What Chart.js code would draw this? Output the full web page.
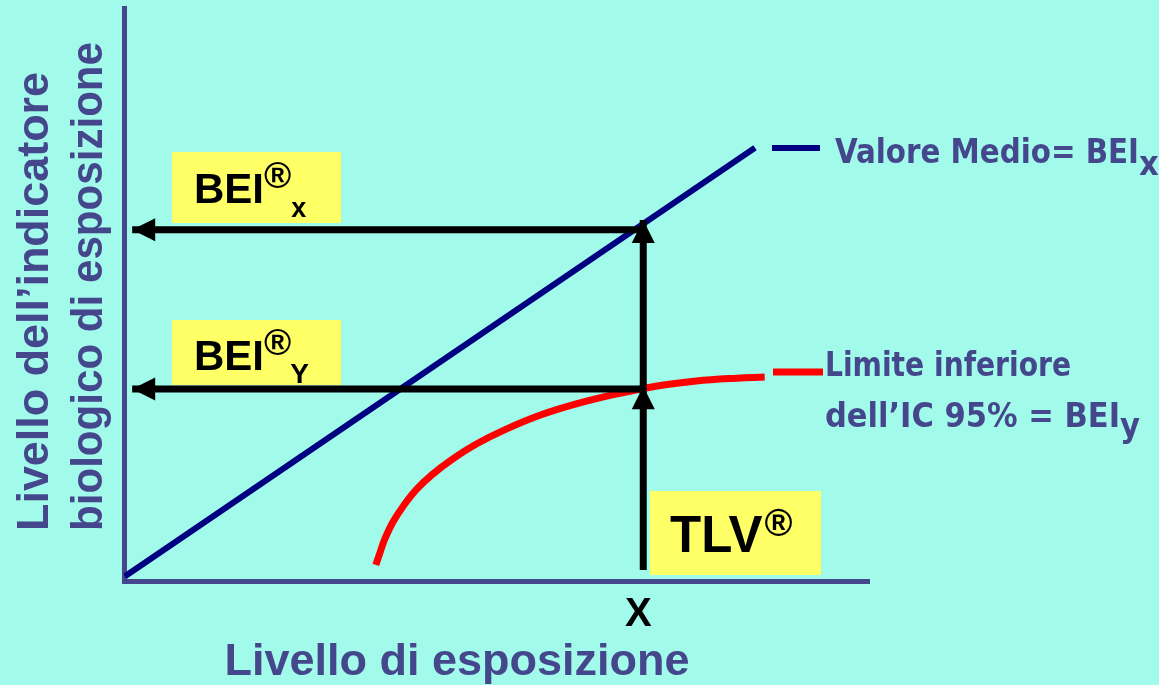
<!DOCTYPE html>
<html>
<head>
<meta charset="utf-8">
<script src="https://cdn.jsdelivr.net/npm/chart.js"></script>
<style>
  html, body { margin: 0; padding: 0; background: #a2faea; }
  #wrap { width: 1159px; height: 685px; }
</style>
</head>
<body>
<div id="wrap"><canvas id="chart" width="1159" height="685"></canvas></div>
<script>
// mean value line (BEI x)
const meanX = [0.01, 8.47];
const meanY = [0.08, 7.56];

// lower limit of the 95% CI (BEI y)
const lowerX = [3.38, 3.44, 3.50, 3.61, 3.75, 3.92, 4.13, 4.39, 4.73, 5.13, 5.60, 6.07, 6.60, 7.14, 7.68, 8.22, 8.60];
const lowerY = [0.28, 0.51, 0.73, 1.03, 1.31, 1.59, 1.85, 2.11, 2.39, 2.65, 2.90, 3.09, 3.26, 3.40, 3.49, 3.54, 3.56];

const tlvX = 6.97;
const arrowStartY = 0.19;
const arrowTipsY = [3.40, 6.30];   // arrowheads on the vertical arrow
const beiLevels = [6.13, 3.35];    // BEI x, BEI y
const arrowEndX = 0.11;

const textBlue = '#45478c';
const axisBlue = '#45478c';

function pt(xs, ys) {
  return xs.map((x, i) => ({ x: x, y: ys[i] }));
}

const arrowStyle = {
  borderColor: '#000000',
  borderWidth: 7,
  pointRadius: 0,
  showLine: true,
  fill: false,
  arrow: true
};

const datasets = [
  Object.assign({ label: 'up1', data: [{ x: tlvX, y: arrowStartY }, { x: tlvX, y: arrowTipsY[0] }] }, arrowStyle),
  Object.assign({ label: 'up2', data: [{ x: tlvX, y: arrowTipsY[0] }, { x: tlvX, y: arrowTipsY[1] }] }, arrowStyle),
  Object.assign({ label: 'beix', data: [{ x: tlvX, y: beiLevels[0] }, { x: arrowEndX, y: beiLevels[0] }] }, arrowStyle),
  Object.assign({ label: 'beiy', data: [{ x: tlvX, y: beiLevels[1] }, { x: arrowEndX, y: beiLevels[1] }] }, arrowStyle),
  {
    label: 'Valore Medio= BEIx',
    data: pt(meanX, meanY),
    borderColor: '#000080',
    borderWidth: 6,
    pointRadius: 0,
    showLine: true
  },
  {
    label: 'Limite inferiore dell\u2019IC 95% = BEIy',
    data: pt(lowerX, lowerY),
    borderColor: '#ff0000',
    borderWidth: 7,
    pointRadius: 0,
    showLine: true,
    tension: 0.4
  }
];

// text with optional superscript / subscript
function richText(ctx, x, y, parts) {
  let cx = x;
  parts.forEach(p => {
    ctx.font = p.font;
    cx += (p.pre || 0);
    if (p.max) {
      ctx.fillText(p.t, cx, y + (p.dy || 0), p.max);
      cx += Math.min(p.max, ctx.measureText(p.t).width);
    } else {
      ctx.fillText(p.t, cx, y + (p.dy || 0));
      cx += ctx.measureText(p.t).width;
    }
  });
}

const drawing = {
  id: 'drawing',
  beforeDraw(chart) {
    const ctx = chart.ctx;
    ctx.save();
    ctx.fillStyle = '#a2faea';
    ctx.fillRect(0, 0, chart.width, chart.height);
    ctx.restore();
  },
  beforeDatasetsDraw(chart) {
    const ctx = chart.ctx;
    const boxes = [
      { x: 172, y: 152, w: 169, h: 71, parts: [
        { t: 'BEI', font: 'bold 42px "Liberation Sans", Arial', tx: 194, ty: 203 },
        { t: '\u00ae', font: 'bold 37px "Liberation Sans", Arial', dy: -15 },
        { t: 'x', font: 'bold 27px "Liberation Sans", Arial', dy: 14 }
      ] },
      { x: 172, y: 320, w: 169, h: 65, parts: [
        { t: 'BEI', font: 'bold 42px "Liberation Sans", Arial', tx: 194, ty: 370 },
        { t: '\u00ae', font: 'bold 37px "Liberation Sans", Arial', dy: -15 },
        { t: 'Y', font: 'bold 28px "Liberation Sans", Arial', dy: 13, pre: -1 }
      ] },
      { x: 650, y: 491, w: 171, h: 84, parts: [
        { t: 'TLV', font: 'bold 51px "Liberation Sans", Arial', tx: 670, ty: 552 },
        { t: '\u00ae', font: 'bold 38px "Liberation Sans", Arial', dy: -16, pre: 2 }
      ] }
    ];
    ctx.save();
    boxes.forEach(b => {
      ctx.fillStyle = '#ffff66';
      ctx.fillRect(b.x, b.y, b.w, b.h);
      ctx.fillStyle = '#000000';
      ctx.textBaseline = 'alphabetic';
      ctx.textAlign = 'left';
      richText(ctx, b.parts[0].tx, b.parts[0].ty, b.parts);
    });
    ctx.restore();
  },
  afterDatasetsDraw(chart) {
    const ctx = chart.ctx;
    const xs = chart.scales.x, ys = chart.scales.y;
    ctx.save();
    ctx.fillStyle = '#000000';
    chart.data.datasets.forEach(ds => {
      if (!ds.arrow) return;
      const n = ds.data.length;
      const a = ds.data[n - 2], b = ds.data[n - 1];
      const x1 = xs.getPixelForValue(a.x), y1 = ys.getPixelForValue(a.y);
      const x2 = xs.getPixelForValue(b.x), y2 = ys.getPixelForValue(b.y);
      const ang = Math.atan2(y2 - y1, x2 - x1);
      const len = 23, half = 11.5;
      ctx.beginPath();
      ctx.moveTo(x2, y2);
      ctx.lineTo(x2 - len * Math.cos(ang) + half * Math.sin(ang), y2 - len * Math.sin(ang) - half * Math.cos(ang));
      ctx.lineTo(x2 - len * Math.cos(ang) - half * Math.sin(ang), y2 - len * Math.sin(ang) + half * Math.cos(ang));
      ctx.closePath();
      ctx.fill();
    });
    ctx.restore();
  },
  afterDraw(chart) {
    const ctx = chart.ctx;
    const xs = chart.scales.x;
    ctx.save();

    // legend
    const mean = chart.data.datasets[4], lower = chart.data.datasets[5];
    ctx.lineCap = 'butt';
    ctx.strokeStyle = mean.borderColor;
    ctx.lineWidth = 6;
    ctx.beginPath(); ctx.moveTo(772, 148); ctx.lineTo(820, 148); ctx.stroke();
    ctx.strokeStyle = lower.borderColor;
    ctx.lineWidth = 7;
    ctx.beginPath(); ctx.moveTo(773, 372); ctx.lineTo(823, 372); ctx.stroke();

    const lf = 'bold 34px "DejaVu Sans Condensed", "DejaVu Sans", sans-serif';
    ctx.fillStyle = textBlue;
    ctx.textAlign = 'left';
    ctx.textBaseline = 'alphabetic';
    richText(ctx, 835, 163, [{ t: 'Valore Medio= BEI', font: lf, max: 304 }, { t: 'x', font: lf, dy: 12 }]);
    richText(ctx, 825, 376, [{ t: 'Limite inferiore', font: lf, max: 246 }]);
    richText(ctx, 825, 427, [{ t: 'dell\u2019IC 95% = BEI', font: lf, max: 295 }, { t: 'y', font: lf, dy: 10 }]);

    // X tick
    ctx.fillStyle = '#000000';
    ctx.textAlign = 'center';
    ctx.font = 'bold 40px "Liberation Sans", Arial';
    ctx.fillText('X', xs.getPixelForValue(tlvX) - 5, 626);

    // axis titles
    ctx.fillStyle = textBlue;
    ctx.font = 'bold 45px "Liberation Sans", Arial';
    ctx.fillText('Livello di esposizione', 457, 675);

    ctx.textAlign = 'left';
    ctx.font = 'bold 45px "Liberation Sans", Arial';
    ctx.translate(0, 531);
    ctx.rotate(-Math.PI / 2);
    ctx.fillText('Livello dell\u2019indicatore', 0, 48, 459);
    ctx.fillText('biologico di esposizione', 0, 102, 489);
    ctx.restore();
  }
};

new Chart(document.getElementById('chart'), {
  type: 'scatter',
  data: { datasets: datasets },
  options: {
    responsive: false,
    animation: false,
    layout: { padding: { left: 124, right: 290, top: 8, bottom: 104 } },
    plugins: { legend: { display: false }, tooltip: { enabled: false } },
    scales: {
      x: {
        type: 'linear', min: 0, max: 10,
        ticks: { display: false },
        grid: { display: false, drawTicks: false },
        border: { display: true, color: axisBlue, width: 5 }
      },
      y: {
        type: 'linear', min: 0, max: 10,
        ticks: { display: false },
        grid: { display: false, drawTicks: false },
        border: { display: true, color: axisBlue, width: 5 }
      }
    }
  },
  plugins: [drawing]
});
</script>
</body>
</html>
